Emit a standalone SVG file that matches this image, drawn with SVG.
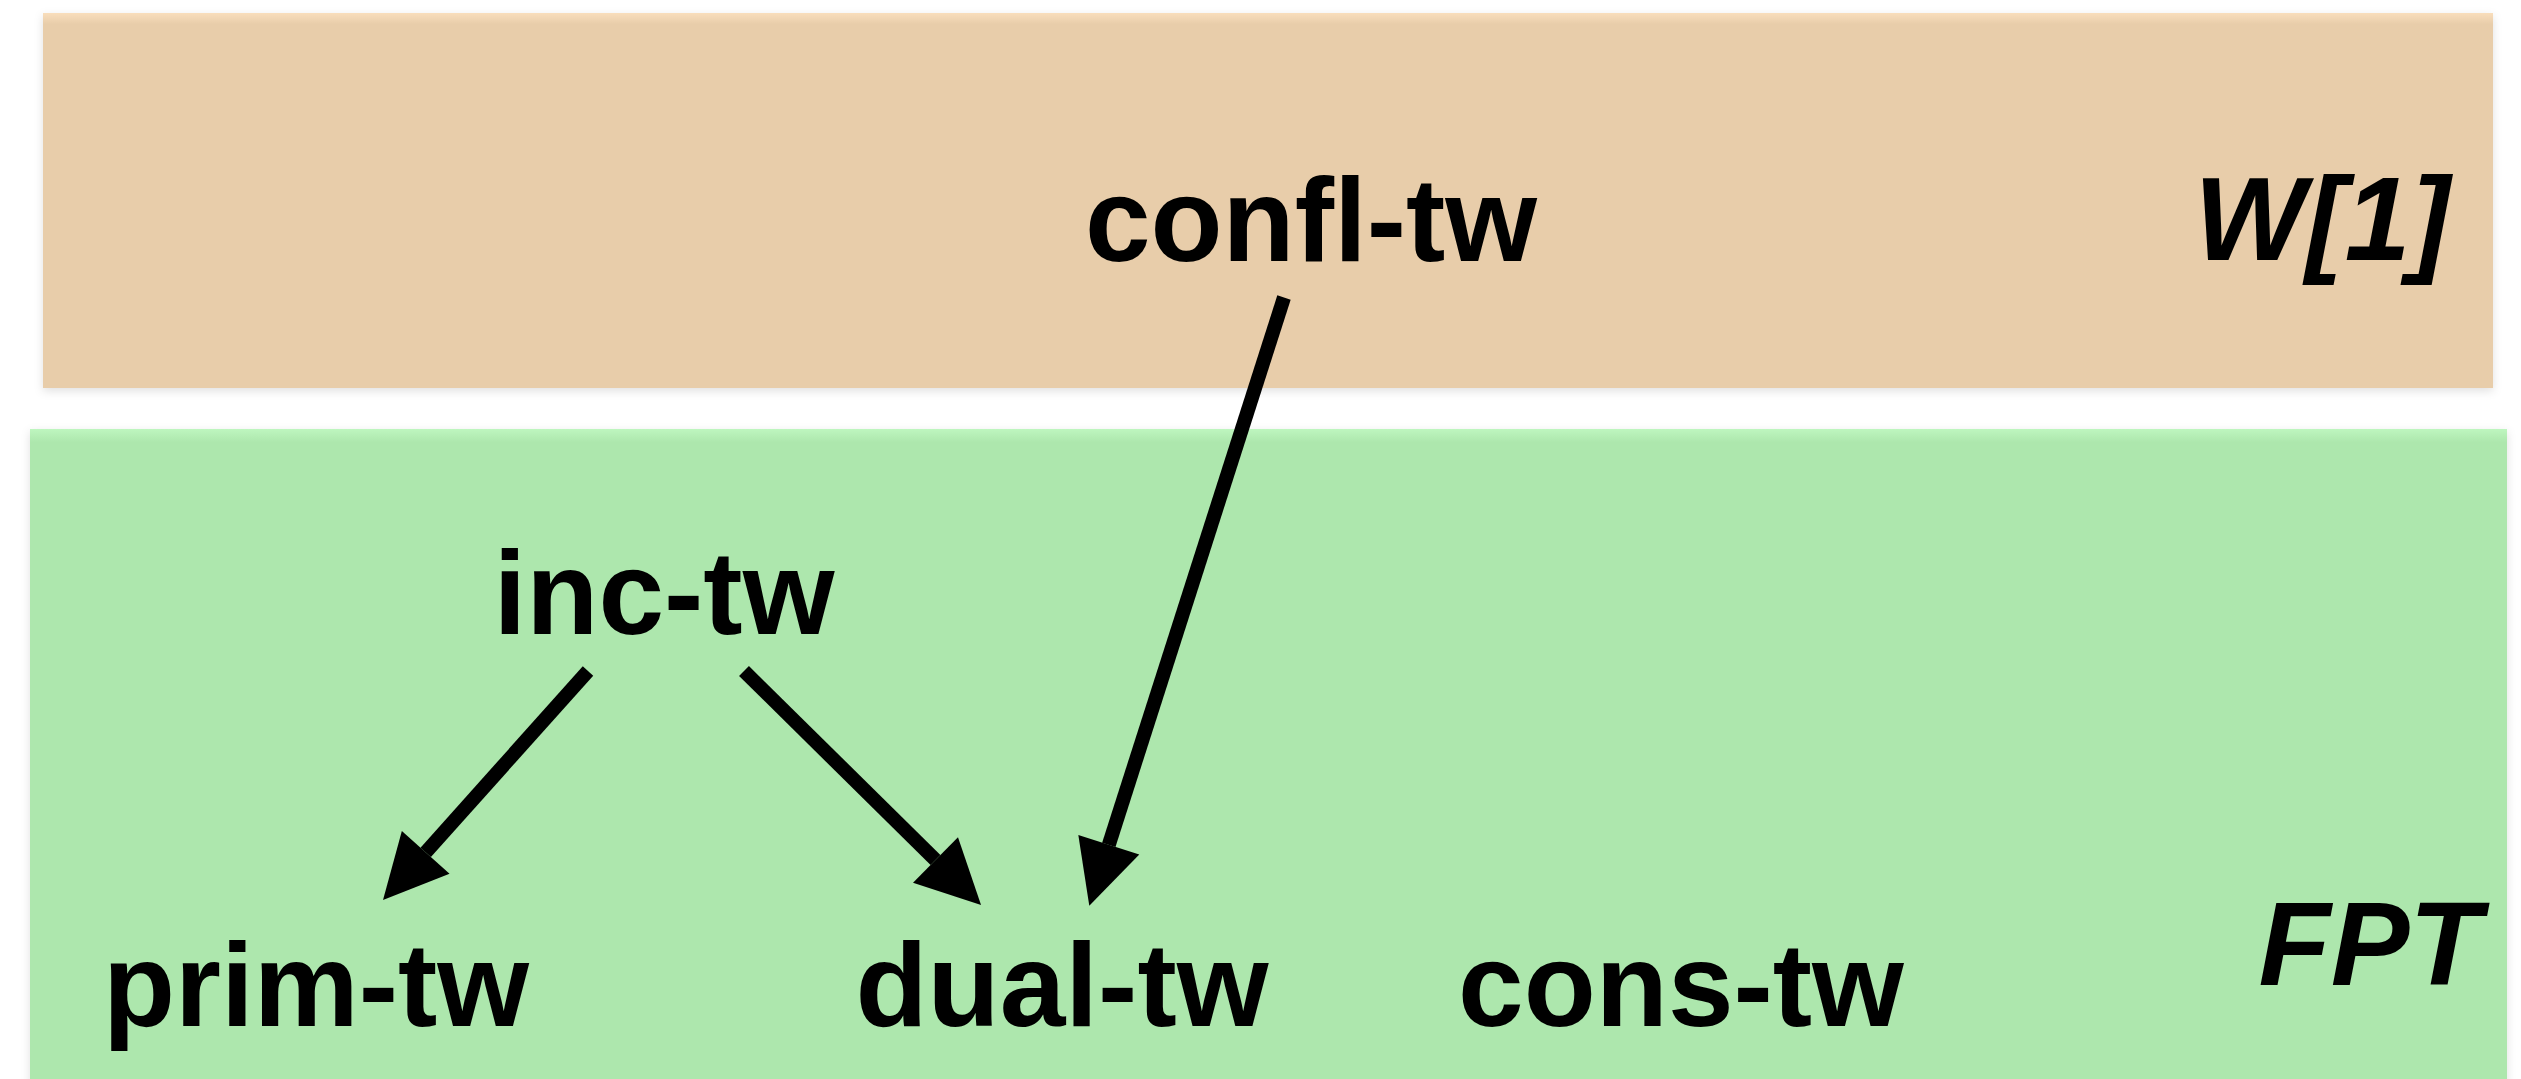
<svg xmlns="http://www.w3.org/2000/svg" width="2521" height="1079" viewBox="0 0 2521 1079">
  <defs>
    <style>
      .lbl { font-family: "Liberation Sans", Arial, sans-serif; font-weight: bold; font-size: 118px; fill: #000; text-anchor: middle; }
      .cls { font-family: "Liberation Sans", Arial, sans-serif; font-weight: bold; font-style: italic; font-size: 118px; fill: #000; text-anchor: middle; }
      .edge { stroke: #000; stroke-width: 14; fill: none; marker-end: url(#arrow); }
    </style>
    <linearGradient id="tanGrad" x1="0" y1="0" x2="0" y2="1">
      <stop offset="0" stop-color="#F9DEBC"/>
      <stop offset="0.03" stop-color="#E8CDAA"/>
      <stop offset="1" stop-color="#E8CDAA"/>
    </linearGradient>
    <linearGradient id="greenGrad" x1="0" y1="0" x2="0" y2="1">
      <stop offset="0" stop-color="#BEF6BF"/>
      <stop offset="0.02" stop-color="#ADE7AD"/>
      <stop offset="1" stop-color="#ADE7AD"/>
    </linearGradient>
    <filter id="shadow" x="-5%" y="-10%" width="110%" height="120%">
      <feDropShadow dx="0" dy="3" stdDeviation="5" flood-color="#000" flood-opacity="0.12"/>
    </filter>
    <marker id="arrow" markerUnits="userSpaceOnUse" markerWidth="64" markerHeight="64" viewBox="0 -32 64 64" refX="0" refY="0" orient="auto" overflow="visible">
      <path d="M0,-32 L64,0 L0,32 Z" fill="#000"/>
    </marker>
  </defs>

  <rect width="2521" height="1079" fill="#FFFFFF"/>

  <g id="class-w1">
    <rect x="43" y="13" width="2450" height="375" fill="url(#tanGrad)" filter="url(#shadow)"/>
    <text class="cls" x="2322" y="260">W[1]</text>
  </g>
  <g id="class-fpt">
    <rect x="30" y="429" width="2477" height="660" fill="url(#greenGrad)" filter="url(#shadow)"/>
    <text class="cls" x="2370" y="985">FPT</text>
  </g>

  <g id="node-confl-tw"><text class="lbl" x="1311" y="261">confl-tw</text></g>
  <g id="node-inc-tw"><text class="lbl" x="664" y="634">inc-tw</text></g>
  <g id="node-prim-tw"><text class="lbl" x="316" y="1026">prim-tw</text></g>
  <g id="node-dual-tw"><text class="lbl" x="1062" y="1026">dual-tw</text></g>
  <g id="node-cons-tw"><text class="lbl" x="1681" y="1026">cons-tw</text></g>

  <g id="connectors">
    <line class="edge" x1="588" y1="671" x2="425.7" y2="852.3"/>
    <line class="edge" x1="744" y1="671" x2="935.5" y2="860"/>
    <line class="edge" x1="1284" y1="297.5" x2="1108.8" y2="844.8"/>
  </g>
</svg>
